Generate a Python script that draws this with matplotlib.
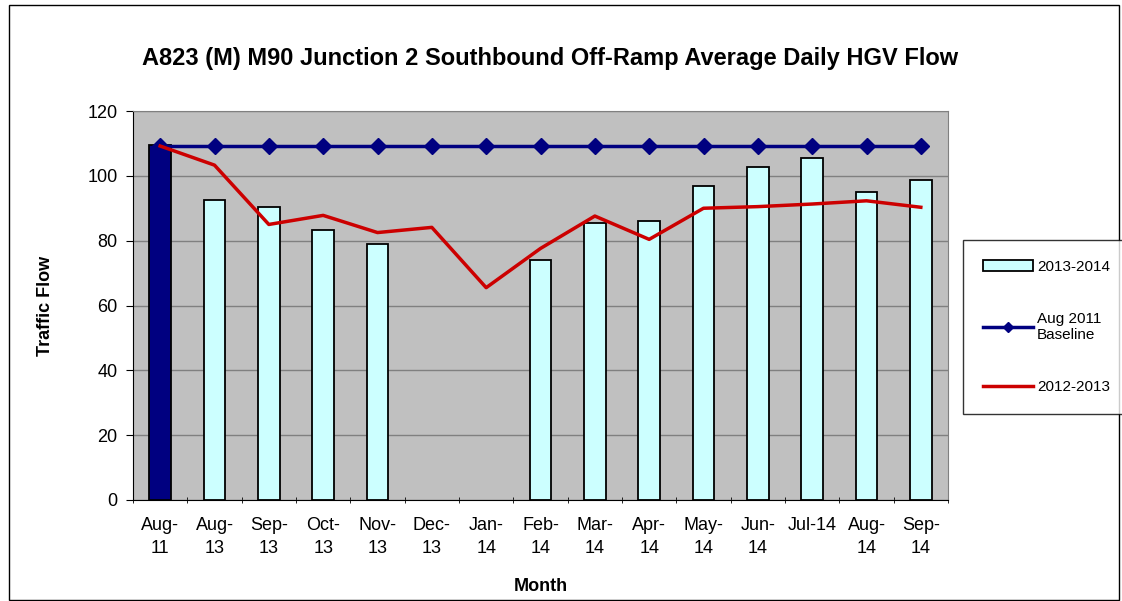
import matplotlib
matplotlib.use("Agg")
import matplotlib.pyplot as plt
from matplotlib.patches import Patch, Rectangle
from matplotlib.lines import Line2D
import numpy as np

plt.rcParams['font.family'] = ['Liberation Sans', 'DejaVu Sans']

months = ["Aug-\n11", "Aug-\n13", "Sep-\n13", "Oct-\n13", "Nov-\n13", "Dec-\n13", "Jan-\n14",
          "Feb-\n14", "Mar-\n14", "Apr-\n14", "May-\n14", "Jun-\n14", "Jul-14", "Aug-\n14", "Sep-\n14"]
flow_2013_2014 = [109.5, 92.5, 90.4, 83.3, 79.0, np.nan, np.nan, 74.0, 85.5, 86.2, 97.0, 102.6, 105.6, 95.0, 98.6]
baseline_aug2011 = [109.2] * 15
flow_2012_2013 = [109.2, 103.3, 85.0, 87.8, 82.5, 84.1, 65.5, 77.6, 87.6, 80.4, 90.0, 90.5, 91.3, 92.3, 90.3]

W, H = 1122, 601
fig = plt.figure(figsize=(W / 100, H / 100), dpi=100)
fig.patch.set_facecolor("white")
# outer chart border
fig.add_artist(Rectangle((9 / W, 1 - 600 / H), (1119 - 9) / W, (600 - 5) / H,
                         transform=fig.transFigure, fill=False, edgecolor="black", lw=1))

ax = fig.add_axes([133 / W, 1 - 500 / H, (948 - 133) / W, (500 - 111) / H])
ax.set_facecolor("#C0C0C0")
x = np.arange(len(months))
colors = ["#000080"] + ["#CCFFFF"] * (len(months) - 1)
ax.bar(x, flow_2013_2014, width=0.4, color=colors, edgecolor="black", linewidth=1.3, zorder=3)
ax.plot(x, baseline_aug2011, color="#000080", lw=2.5, marker="D", markersize=8, zorder=4)
ax.plot(x, flow_2012_2013, color="#CC0000", lw=2.5, zorder=5)

ax.set_xlim(-0.5, len(months) - 0.5)
ax.set_ylim(0, 120)
ax.set_yticks(range(0, 121, 20))
ax.yaxis.grid(True, color="#808080", lw=1)
ax.set_axisbelow(True)
for s in ["top", "right"]:
    ax.spines[s].set_color("#808080")
ax.spines["left"].set_color("black")
ax.spines["bottom"].set_color("black")
ax.tick_params(axis="y", labelsize=13, direction="out", length=5, pad=6)
ax.set_xticks(x)
ax.set_xticklabels(months, fontsize=13, linespacing=1.5)
ax.tick_params(axis="x", length=0, pad=12)
ax.set_xticks(np.arange(-0.5, len(months), 1), minor=True)
ax.tick_params(axis="x", which="minor", length=5, direction="inout")

ax.set_ylabel("Traffic Flow", fontsize=13, fontweight="bold", labelpad=24)
ax.set_xlabel("Month", fontsize=13, fontweight="bold", labelpad=15)
fig.text(550 / W, 1 - 59 / H, "A823 (M) M90 Junction 2 Southbound Off-Ramp Average Daily HGV Flow",
         ha="center", va="center", fontsize=17, fontweight="bold")

handles = [Patch(facecolor="#CCFFFF", edgecolor="black", lw=1.3),
           Line2D([], [], color="#000080", lw=2.5, marker="D", markersize=5),
           Line2D([], [], color="#CC0000", lw=2.5)]
labels = ["2013-2014", "Aug 2011\nBaseline", "2012-2013"]
leg = fig.legend(handles, labels, loc="upper left",
                 bbox_to_anchor=(963 / W, 1 - 240 / H), bbox_transform=fig.transFigure,
                 borderaxespad=0,
                 fontsize=11, frameon=True, fancybox=False, edgecolor="black",
                 handlelength=3.3, labelspacing=2.5, borderpad=1.3, handletextpad=0.25)
leg.get_frame().set_linewidth(1)

fig.savefig("out.png", dpi=100)
